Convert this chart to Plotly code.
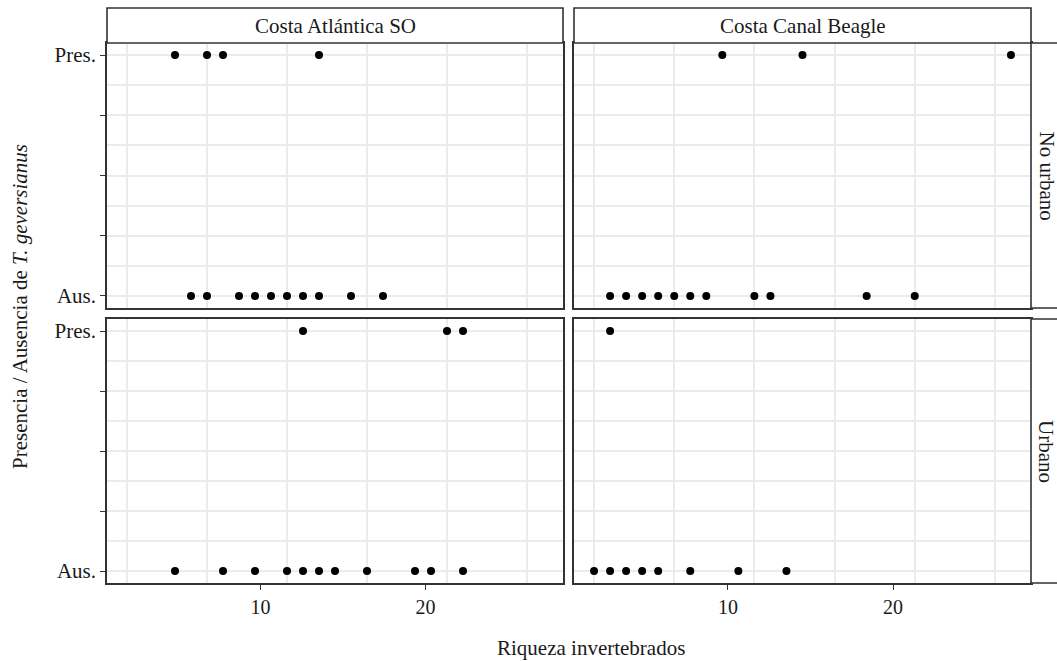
import plotly.graph_objects as go

W, H = 1057, 661

# ---- data (richness of invertebrates, presence = 1 / absence = 0) ----
regions = ["Costa Atlántica SO", "Costa Canal Beagle"]
urban = ["No urbano", "Urbano"]

atl_nourb_pres = [3, 5, 6, 12]
atl_nourb_aus = [4, 5, 7, 8, 9, 10, 11, 12, 14, 16]
beag_nourb_pres = [8, 13, 26]
beag_nourb_aus = [1, 2, 3, 4, 5, 6, 7, 10, 11, 17, 20]
atl_urb_pres = [11, 20, 21]
atl_urb_aus = [3, 6, 8, 10, 11, 12, 13, 15, 18, 19, 21]
beag_urb_pres = [1]
beag_urb_aus = [0, 1, 2, 3, 4, 6, 9, 12]

x_tick_pos = [8.35, 18.65]
x_tick_text = ["10", "20"]
x_grid = [0, 5, 10, 15, 20, 25]
y_tick_vals = [0, 0.25, 0.5, 0.75, 1]
y_tick_text = ["Aus.", "", "", "", "Pres."]
y_minor = [0.125, 0.375, 0.625, 0.875]

FONT = "Liberation Serif, Times New Roman, serif"
BORDER = "#333333"
GRID = "#ebebeb"
TXT = "#1a1a1a"

# panel geometry in pixels
colx = [(107, 563), (574, 1031)]
rowy = [(43, 308), (319, 583)]  # top row = No urbano, bottom = Urbano


def px2x(p):
    return p / W


def px2y(p):
    return 1 - p / H


panels = {
    (0, 0): (atl_nourb_pres, atl_nourb_aus),
    (0, 1): (beag_nourb_pres, beag_nourb_aus),
    (1, 0): (atl_urb_pres, atl_urb_aus),
    (1, 1): (beag_urb_pres, beag_urb_aus),
}

fig = go.Figure()
layout = dict(
    width=W, height=H, autosize=False,
    margin=dict(l=0, r=0, t=0, b=0),
    paper_bgcolor="white", plot_bgcolor="white",
    showlegend=False,
    font=dict(family=FONT, size=20, color=TXT),
)

idx = 0
for (r, c), (pres, aus) in panels.items():
    idx += 1
    xa = "x" if idx == 1 else f"x{idx}"
    ya = "y" if idx == 1 else f"y{idx}"
    xs = list(pres) + list(aus)
    ys = [1] * len(pres) + [0] * len(aus)
    fig.add_trace(go.Scatter(
        x=xs, y=ys, mode="markers", xaxis=xa, yaxis=ya,
        marker=dict(color="black", size=8, line=dict(width=0)),
        hoverinfo="skip",
    ))
    x0, x1 = colx[c]
    y0, y1 = rowy[r]
    xkey = "xaxis" if idx == 1 else f"xaxis{idx}"
    ykey = "yaxis" if idx == 1 else f"yaxis{idx}"
    bottom = (r == 1)
    left = (c == 0)
    layout[xkey] = dict(
        domain=[px2x(x0), px2x(x1)], anchor=ya,
        range=[-1.25, 27.25], fixedrange=True,
        tickmode="array", tickvals=x_tick_pos,
        ticktext=x_tick_text if bottom else ["", ""],
        showticklabels=bottom,
        ticks="outside" if bottom else "", ticklen=5, tickwidth=1.2, tickcolor=BORDER,
        showgrid=False, zeroline=False,
        showline=True, linecolor=BORDER, linewidth=1.6, mirror=True,
        minor=dict(tickmode="array", tickvals=x_grid, showgrid=True,
                   gridcolor=GRID, gridwidth=1.5, ticks=""),
        tickfont=dict(family=FONT, size=20, color=TXT),
    )
    layout[ykey] = dict(
        domain=[px2y(y1), px2y(y0)], anchor=xa,
        range=[-0.05, 1.05], fixedrange=True,
        tickmode="array", tickvals=y_tick_vals,
        ticktext=y_tick_text if left else [""] * 5,
        showticklabels=left,
        ticks="outside" if left else "", ticklen=5, tickwidth=1.2, tickcolor=BORDER,
        showgrid=True, gridcolor=GRID, gridwidth=1.5, zeroline=False,
        showline=True, linecolor=BORDER, linewidth=1.6, mirror=True,
        minor=dict(tickmode="array", tickvals=y_minor, showgrid=True,
                   gridcolor=GRID, gridwidth=1.5, ticks=""),
        tickfont=dict(family=FONT, size=21, color=TXT),
    )

shapes = []
annotations = []
# top strips
for c, name in enumerate(regions):
    x0, x1 = colx[c]
    shapes.append(dict(type="rect", xref="paper", yref="paper",
                       x0=px2x(x0), x1=px2x(x1), y0=px2y(43), y1=px2y(8),
                       fillcolor="white", line=dict(color=BORDER, width=1.6)))
    annotations.append(dict(text=name, xref="paper", yref="paper",
                            x=px2x((x0 + x1) / 2), y=px2y(25.5),
                            xanchor="center", yanchor="middle", showarrow=False,
                            font=dict(family=FONT, size=21, color=TXT)))
# right strips
for r, name in enumerate(urban):
    y0, y1 = rowy[r]
    shapes.append(dict(type="rect", xref="paper", yref="paper",
                       x0=px2x(1031), x1=px2x(1064), y0=px2y(y1), y1=px2y(y0),
                       fillcolor="white", line=dict(color=BORDER, width=1.6)))
    annotations.append(dict(text=name, xref="paper", yref="paper",
                            x=px2x(1046), y=px2y((y0 + y1) / 2),
                            xanchor="center", yanchor="middle", showarrow=False,
                            textangle=90,
                            font=dict(family=FONT, size=21, color=TXT)))

annotations.append(dict(text="Riqueza invertebrados", xref="paper", yref="paper",
                        x=px2x(591), y=px2y(648), xanchor="center", yanchor="middle",
                        showarrow=False, font=dict(family=FONT, size=21, color=TXT)))
annotations.append(dict(text="Presencia / Ausencia de <i>T. geversianus</i>",
                        xref="paper", yref="paper",
                        x=px2x(20), y=px2y(307), xanchor="center", yanchor="middle",
                        showarrow=False, textangle=-90,
                        font=dict(family=FONT, size=21, color=TXT)))

layout["shapes"] = shapes
layout["annotations"] = annotations
fig.update_layout(**layout)
fig.write_html("out.html")
